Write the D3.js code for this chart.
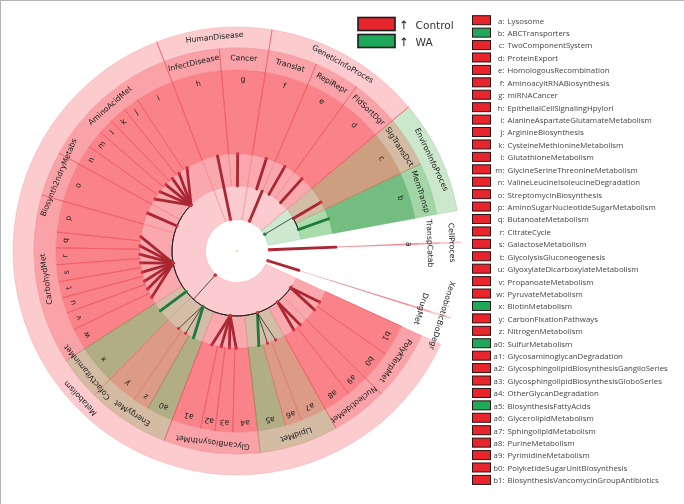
<!DOCTYPE html>
<html><head><meta charset="utf-8">
<script src="https://cdn.jsdelivr.net/npm/d3@7/dist/d3.min.js"></script>
<style>html,body{margin:0;padding:0;background:#fff}svg{display:block;filter:blur(.35px)}text{font-family:"DejaVu Sans",sans-serif}</style>
</head><body><svg id="c" width="684" height="504"></svg>
<script>
// ---------- data (angles in degrees, clockwise from 12 o'clock) ----------
const leafKeys = ["a","b","c","d","e","f","g","h","i","j","k","l","m","n","o","p","q","r","s","t","u","v","w","x","y","z","a0","a1","a2","a3","a4","a5","a6","a7","a8","a9","b0","b1"];
const leafNames = ["Lysosome","ABCTransporters","TwoComponentSystem","ProteinExport","HomologousRecombination","AminoacyltRNABiosynthesis","miRNACancer","EpithelialCellSignalingHpylori","AlanineAspartateGlutamateMetabolism","ArginineBiosynthesis","CysteineMethionineMetabolism","GlutathioneMetabolism","GlycineSerineThreonineMetabolism","ValineLeucineIsoleucineDegradation","StreptomycinBiosynthesis","AminoSugarNucleotideSugarMetabolism","ButanoateMetabolism","CitrateCycle","GalactoseMetabolism","GlycolysisGluconeogenesis","GlyoxylateDicarboxylateMetabolism","PropanoateMetabolism","PyruvateMetabolism","BiotinMetabolism","CarbonFixationPathways","NitrogenMetabolism","SulfurMetabolism","GlycosaminoglycanDegradation","GlycosphingolipidBiosynthesisGanglioSeries","GlycosphingolipidBiosynthesisGloboSeries","OtherGlycanDegradation","BiosynthesisFattyAcids","GlycerolipidMetabolism","SphingolipidMetabolism","PurineMetabolism","PyrimidineMetabolism","PolyketideSugarUnitBiosynthesis","BiosynthesisVancomycinGroupAntibiotics"];
const leafGroup = ["Control","WA","Control","Control","Control","Control","Control","Control","Control","Control","Control","Control","Control","Control","Control","Control","Control","Control","Control","Control","Control","Control","Control","WA","Control","Control","WA","Control","Control","Control","Control","WA","Control","Control","Control","Control","Control","Control"];
// sector extent of each leaf
const leafFrom = [88.0,79.6,64.6,50,36,23,9,-5,-21,-33.4,-38.5,-44,-49,-54.8,-61.2,-74,-84,-89,-94.4,-99.8,-105,-110,-115.7,-122.7,-135.3,-145.3,-150.5,-159,-168.4,-173,-178.7,-186.6,-195.6,-200.8,-209.2,-218.1,-225.3,-235.3];
const leafTo   = [87.5,64.6,50,36,23,9,-5,-21,-33.4,-38.5,-44,-49,-54.8,-61.2,-74,-84,-89,-94.4,-99.8,-105,-110,-115.7,-122.7,-135.3,-145.3,-150.5,-159,-168.4,-173,-178.7,-186.6,-195.6,-200.8,-209.2,-218.1,-225.3,-235.3,-245.4];
// cladogram links: leaf tip angle and parent node angle
const leafTip  = [87.8,70.6,59.8,42,29.5,17.6,0.4,-11.6,-31,-36.7,-41.7,-47,-52.4,-57.6,-67,-81.6,-87,-92,-97,-102.6,-108,-113,-118.5,-128,-143,-148,-153.4,-165,-170.6,-175.5,-179.5,-193,-198.3,-203.5,-215.8,-220.6,-232.8,-238.3];
const leafNode = [87.8,70.8,60,42,29.5,17.6,0.4,-11.6,-45,-45,-45,-45,-45,-45,-67.4,-100.8,-100.8,-100.8,-100.8,-100.8,-100.8,-100.8,-100.8,-128.6,-148,-148,-148.6,-174,-174,-174,-174,-198.3,-198.3,-198.3,-218.5,-218.5,-235.5,-235.5];
// orders (ring 2 and ring 4)
const orderNames = ["TranspCatab","MemTransp","SigTransDct","FldSortDgr","RepiRepr","Translat","Cancer","InfectDisease","AminoAcidMet","Biosynth2ndryMetabs","CarbohydMet","CofactVitaminMet","EnergyMet","GlycanBiosynthMet","LipidMet","NucleotideMet","PolyKTerpMet","DrugMet"];
const orderFrom = [88.0,79.6,64.6,50,36,23,9,-5,-21,-61.2,-74,-122.7,-135.3,-159,-186.6,-209.2,-225.3,107.7];
const orderTo   = [87.5,64.6,50,36,23,9,-5,-21,-61.2,-74,-122.7,-135.3,-159,-186.6,-209.2,-225.3,-245.4,107.2];
const orderTone = ["red","green","tan","red","red","red","red","red","red","red","red","tan","tan","red","tan","red","red","red"];
// kingdoms (ring 1 and ring 5)
const kingdomNames = ["CellProces","EnvironInfoProces","GeneticInfoProces","HumanDisease","Metabolism","XenobioticBioDegr"];
const kingdomFrom = [88.0,79.6,50,9,-21,107.7];
const kingdomTo   = [87.5,50,9,-21,-245.4,107.2];
const kingdomTone = ["red","green","red","red","red","red"];
// leaf sector tone
const leafTone = ["sliver","green","brown","red","red","red","red","red","red","red","red","red","red","red","red","red","red","red","red","red","red","red","red","olive","salmon","salmon","olive","red","red","red","red","olive","salmon","salmon","red","red","red","red"];
// kingdom-level links
const trunkAngle = [-11.6,22.8,59,-138,87.8,107.4];
const trunkKind  = ["bar","bar","thin","thin","bar","bar"];
// thin arcs joining order-level nodes
const arcFrom = [-45,60];
const arcTo   = [-237.8,70.8];

// ---------- layout ----------
const svg = d3.select("#c");
const W = 684, H = 504, cx = 237, cy = 251;
const rad = d3.scaleLinear().domain([0,360]).range([0,2*Math.PI]);
const ring = d3.scaleOrdinal().domain(["hole","r1","r2","r3","r4","r5"]).range([31.5,65,97,181,203,224]);
const tones = {
  ring5:{red:"#fccbce",green:"#cbe7cc"},
  ring4:{red:"#f9a3a8",green:"#a3d6a7",tan:"#d4bba4"},
  ring3:{red:"#f98389",green:"#74bd80",brown:"#cc9f80",olive:"#b1ad85",salmon:"#dc9b86",sliver:"#ee8e9a"},
  ring2:{red:"#f9a8ad",green:"#aadcab",tan:"#d4bda6"},
  ring1:{red:"#fccbd0",green:"#cce9cf"}
};
const arc = d3.arc();
const g = svg.append("g").attr("transform",`translate(${cx},${cy})`);
const pt = (a,r)=>d3.pointRadial(rad(a),r);
const line = d3.line();
const faint = {red:"rgba(236,70,80,.22)",green:"rgba(90,170,110,.3)",tan:"rgba(190,130,100,.3)",brown:"rgba(190,130,100,.3)",olive:"rgba(150,130,80,.3)",salmon:"rgba(220,120,100,.3)",sliver:"none"};
const strong = {red:"rgba(236,55,68,.62)",green:"rgba(90,170,110,.6)",tan:"rgba(190,125,95,.65)",brown:"rgba(190,110,85,.7)",olive:"rgba(150,125,70,.7)",salmon:"rgba(226,100,90,.65)",sliver:"none"};

function sector(i0,i1,a0,a1,fill,t){
  g.append("path").attr("d",arc({innerRadius:ring(i0),outerRadius:ring(i1),startAngle:rad(a1),endAngle:rad(a0)}))
   .attr("fill",fill).attr("stroke",faint[t]).attr("stroke-width",.8);
}
function radial(a,i0,i1,color,w){
  g.append("path").attr("d",line([pt(a,ring(i0)),pt(a,ring(i1))])).attr("stroke",color).attr("stroke-width",w).attr("fill","none");
}
kingdomNames.forEach((n,i)=>sector("r4","r5",kingdomFrom[i],kingdomTo[i],tones.ring5[kingdomTone[i]],i==0||i==5?"sliver":kingdomTone[i]));
orderNames.forEach((n,i)=>sector("r3","r4",orderFrom[i],orderTo[i],tones.ring4[orderTone[i]],i==0||i==17?"sliver":orderTone[i]));
leafKeys.forEach((k,i)=>sector("r2","r3",leafFrom[i],leafTo[i],tones.ring3[leafTone[i]],leafTone[i]));
sector("r2","r3",orderFrom[17],orderTo[17],tones.ring3.sliver,"sliver");
orderNames.forEach((n,i)=>sector("r1","r2",orderFrom[i],orderTo[i],tones.ring2[orderTone[i]],i==0||i==17?"sliver":orderTone[i]));
kingdomNames.forEach((n,i)=>sector("hole","r1",kingdomFrom[i],kingdomTo[i],tones.ring1[kingdomTone[i]],i==0||i==5?"sliver":kingdomTone[i]));

// radial separators
leafKeys.forEach((k,i)=>{ if(i>1) radial(leafFrom[i],"r2","r3",strong[leafTone[i]],.9); });
radial(leafTo[37],"r2","r3",strong.red,.8);
radial(leafFrom[1],"r2","r3",strong.green,.6);
orderFrom.forEach((a,i)=>{ if(i>1&&i<17){ radial(a,"r3","r4",strong[orderTone[i]],.9); radial(a,"r1","r2","rgba(236,90,100,.3)",.7);} });
kingdomFrom.forEach((a,i)=>{ if(i==2||i==3||i==4){ radial(a,"r4","r5",strong.red,.9); radial(a,"hole","r1","rgba(236,90,100,.3)",.7);} });

// thin black arcs
arcFrom.forEach((a,i)=>{
  g.append("path").attr("d",arc({innerRadius:ring("r1"),outerRadius:ring("r1"),startAngle:rad(Math.min(a,arcTo[i])),endAngle:rad(Math.max(a,arcTo[i]))}))
   .attr("fill","none").attr("stroke","#222").attr("stroke-width",.9);
});
function link(a0,r0,a1,r1,color,w){
  g.append("path").attr("d",line([pt(a0,r0),pt(a1,r1)])).attr("stroke",color).attr("stroke-width",w).attr("fill","none").attr("stroke-linecap","round");
}
function dot(a,r,color,s){ const p=pt(a,r); g.append("circle").attr("cx",p[0]).attr("cy",p[1]).attr("r",s).attr("fill",color); }
const barRed="#a92732", barGreen="#1c7a3c", dotRed="#d8303f", dotGreen="#1a8a45";

leafKeys.forEach((k,i)=>{
  const isW = leafGroup[i]==="WA";
  const thin = ["y","z","a6","a7"].includes(k);
  if(k==="a"||k==="h") return;
  link(leafNode[i],ring("r1"),leafTip[i],ring("r2"),thin?"#2a2a2a":(isW?barGreen:barRed),thin?.8:2.8);
  dot(leafTip[i],ring("r2"),isW?dotGreen:dotRed,1.6);
});
trunkAngle.forEach((a,i)=>{
  const thin = trunkKind[i]==="thin";
  const r1 = i===0?ring("r2"):i===4?99:ring("r1");
  link(a,ring("hole")+1,a,r1,thin?"#2a2a2a":barRed,thin?.8:2.8);
  dot(a,ring("hole")+1,i===2?dotGreen:dotRed,1.8);
});
[...new Set(leafNode.slice(8))].forEach(a=>dot(a,ring("r1"),(a===-128.6||a===-148.6)?dotGreen:dotRed,1.4));
g.append("circle").attr("r",1).attr("fill","#cdd98a");

function label(a,r,txt,fs){
  const p=pt(a,r);
  g.append("text").attr("transform",`translate(${p[0]},${p[1]}) rotate(${a})`)
    .attr("text-anchor","middle").attr("dominant-baseline","central")
    .attr("font-size",fs).attr("fill","#202020").text(txt);
}
leafKeys.forEach((k,i)=>label((leafFrom[i]+leafTo[i])/2,ring("r3")-9,k,7.7));
orderNames.forEach((n,i)=>label((orderFrom[i]+orderTo[i])/2,ring("r3")+12,n,7.7));
kingdomNames.forEach((n,i)=>label((kingdomFrom[i]+kingdomTo[i])/2,ring("r4")+12,n,7.7));

// top legend
const legendGroups = ["Control","WA"];
const legendFill = {Control:"#e8252d",WA:"#1fa85a"};
const topY = d3.scalePoint().domain(legendGroups).range([24,41]);
legendGroups.forEach(n=>{
  svg.append("rect").attr("x",358).attr("y",topY(n)-6.5).attr("width",37).attr("height",13)
    .attr("fill",legendFill[n]).attr("stroke","#1c1c1c").attr("stroke-width",1.6);
  svg.append("text").attr("x",404).attr("y",topY(n)+4.8).attr("text-anchor","middle").attr("font-size",11.5).attr("fill","#222").text("\u2191");
  svg.append("text").attr("x",415.5).attr("y",topY(n)+4.8).attr("font-size",10.6).attr("fill","#333").text(n);
});

// right legend
const rowY = d3.scalePoint().domain(leafKeys).range([21,480.7]);
leafKeys.forEach((k,i)=>{
  const y=rowY(k), c=legendFill[leafGroup[i]];
  svg.append("rect").attr("x",472.5).attr("y",y-5.3).attr("width",18).attr("height",9)
    .attr("fill",c).attr("stroke","#2c1212").attr("stroke-width",1);
  svg.append("text").attr("x",504.5).attr("y",y+2.6).attr("text-anchor","end").style("font-size","7.85px").style("font-family","'Open Sans'").attr("fill","#444").text(k+":");
  svg.append("text").attr("x",507.5).attr("y",y+2.6).style("font-size","7.85px").style("font-family","'Open Sans'").attr("fill","#444").text(leafNames[i]);
});

// page frame
svg.append("rect").attr("x",0).attr("y",0).attr("width",W).attr("height",1).attr("fill","#b4b4b4");
svg.append("rect").attr("x",0).attr("y",0).attr("width",1).attr("height",H).attr("fill","#b4b4b4");
</script></body></html>
